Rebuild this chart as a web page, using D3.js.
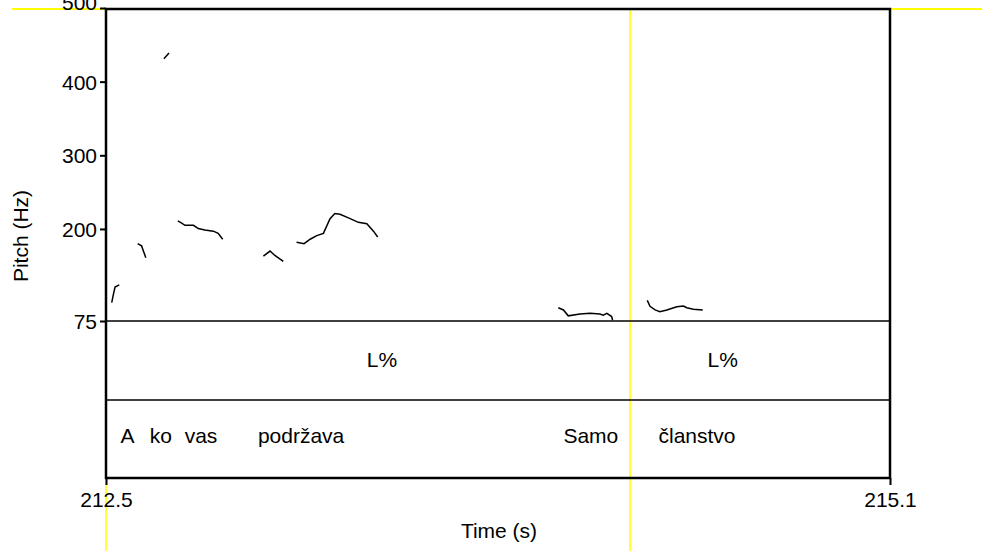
<!DOCTYPE html>
<html>
<head>
<meta charset="utf-8">
<script src="https://cdn.jsdelivr.net/npm/d3@7"></script>
<style>
  body { margin: 0; background: #fff; }
  svg { display: block; font-family: "Liberation Sans", Arial, sans-serif; }
</style>
</head>
<body>
<div id="chart"></div>
<script>
// pitch track, gaps marked with null
var pitchTimes = [
  212.519, 212.524, 212.530, 212.544, null,
  212.605, 212.618, 212.624, 212.632, null,
  212.692, 212.709, null,
  212.738, 212.751, 212.762, 212.790, 212.806, 212.828, 212.856, 212.872, 212.887, null,
  213.022, 213.044, 213.060, 213.088, null,
  213.132, 213.157, 213.177, 213.199, 213.221, 213.243, 213.259, 213.276, 213.304, 213.337, 213.365, 213.387, 213.401, null,
  214.000, 214.017, 214.033, 214.072, 214.105, 214.138, 214.149, 214.161, 214.177, 214.180, null,
  214.295, 214.304, 214.321, 214.337, 214.360, 214.393, 214.415, 214.426, 214.448, 214.479
];
var pitchHz = [
  100, 110, 121, 124, null,
  180, 177, 170, 161, null,
  431, 439, null,
  211, 208, 205, 205, 200.5, 198.6, 197, 194, 186, null,
  163, 170, 164, 156, null,
  182, 180, 186, 191, 194, 214, 221, 220, 215, 209, 207, 197, 189, null,
  93, 90, 82, 84.5, 85.4, 84.5, 83, 85.4, 81, 76, null,
  103, 95, 90, 87.6, 90, 94.4, 95.3, 93, 91, 90
];

var yTicks = [75, 200, 300, 400, 500];
var xTicks = [212.5, 215.1];

var toneLabels = ["L%", "L%"];
var toneTimes = [213.415, 214.545];
var wordLabels = ["A", "ko", "vas", "podržava", "Samo", "članstvo"];
var wordTimes = [212.571, 212.682, 212.815, 213.147, 214.108, 214.460];

var cursorTime = 214.238;

var width = 982,
  height = 551;

var plotLeft = 106, plotRight = 890,
  plotTop = 8, frameTop = 9, pitchBottom = 321, tierSplit = 400, plotBottom = 478;

var x = d3.scaleLinear()
  .domain([212.5, 215.1])
  .range([plotLeft, plotRight]);

var y = d3.scaleLinear()
  .domain([75, 500])
  .range([pitchBottom, plotTop]);

var svg = d3.select("#chart").append("svg")
  .attr("width", width)
  .attr("height", height);

// selection lines (yellow)
svg.append("line")
  .attr("x1", 12).attr("x2", width)
  .attr("y1", frameTop).attr("y2", frameTop)
  .attr("stroke", "#ffff00")
  .attr("stroke-width", 2);

svg.selectAll(".cursor")
  .data([212.5, cursorTime])
  .enter().append("line")
  .attr("class", "cursor")
  .attr("x1", d => x(d)).attr("x2", d => x(d))
  .attr("y1", frameTop).attr("y2", height)
  .attr("stroke", "#ffff00")
  .attr("stroke-width", 1.5);

// axes
var yAxis = svg.append("g")
  .attr("transform", "translate(" + plotLeft + ",0)")
  .call(d3.axisLeft(y).tickValues(yTicks).tickSize(6).tickPadding(3).tickFormat(d3.format("d")));

var xAxis = svg.append("g")
  .attr("transform", "translate(0," + plotBottom + ")")
  .call(d3.axisBottom(x).tickValues(xTicks).tickSize(7).tickPadding(7).tickFormat(d3.format(".1f")));

[yAxis, xAxis].forEach(function (g) {
  g.select(".domain").remove();
  g.selectAll("line").attr("stroke", "#000").attr("stroke-width", 2);
  g.selectAll("text")
    .attr("fill", "#000")
    .style("font-size", "21px")
    .style("font-family", "'Liberation Sans', Arial, sans-serif");
});
yAxis.selectAll("text").attr("dy", "0.35em");
yAxis.selectAll(".tick").filter(d => d === 500).select("text").attr("dy", "0.05em");

// frame and tier lines
svg.append("rect")
  .attr("x", plotLeft).attr("y", frameTop)
  .attr("width", plotRight - plotLeft).attr("height", plotBottom - frameTop)
  .attr("fill", "none")
  .attr("stroke", "#000")
  .attr("stroke-width", 2.5);

svg.selectAll(".tier")
  .data([pitchBottom, tierSplit])
  .enter().append("line")
  .attr("class", "tier")
  .attr("x1", plotLeft).attr("x2", plotRight)
  .attr("y1", d => d).attr("y2", d => d)
  .attr("stroke", "#000")
  .attr("stroke-width", 1.5);

// pitch contour
var points = pitchTimes.map((t, i) => ({ t: t, hz: pitchHz[i] }));

var line = d3.line()
  .defined(d => d.t != null && d.hz != null)
  .x(d => x(d.t))
  .y(d => y(d.hz));

svg.append("path")
  .datum(points)
  .attr("d", line)
  .attr("fill", "none")
  .attr("stroke", "#000")
  .attr("stroke-width", 1.5);

// tier labels
svg.selectAll(".tone")
  .data(toneLabels)
  .enter().append("text")
  .attr("class", "tone")
  .attr("x", (d, i) => x(toneTimes[i]))
  .attr("y", 360)
  .attr("dy", "0.35em")
  .attr("text-anchor", "middle")
  .style("font-size", "21px")
  .text(d => d);

svg.selectAll(".word")
  .data(wordLabels)
  .enter().append("text")
  .attr("class", "word")
  .attr("x", (d, i) => x(wordTimes[i]))
  .attr("y", 436)
  .attr("dy", "0.35em")
  .attr("text-anchor", "middle")
  .style("font-size", "21px")
  .text(d => d);

// axis titles
svg.append("text")
  .attr("x", (plotLeft + plotRight) / 2 + 1)
  .attr("y", 531)
  .attr("dy", "0.35em")
  .attr("text-anchor", "middle")
  .style("font-size", "21px")
  .text("Time (s)");

svg.append("text")
  .attr("transform", "translate(21,236) rotate(-90)")
  .attr("dy", "0.35em")
  .attr("text-anchor", "middle")
  .style("font-size", "21px")
  .text("Pitch (Hz)");
</script>
</body>
</html>
